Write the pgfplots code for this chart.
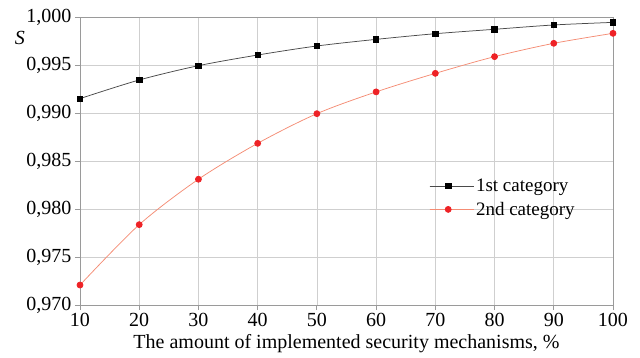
\documentclass[border=0pt]{standalone}
\usepackage{fontspec}
\setmainfont{Liberation Serif}
\usepackage{pgfplots}
\pgfplotsset{compat=1.18}
\definecolor{blk}{HTML}{4A4A4A}
\definecolor{salm}{HTML}{F48C74}
\definecolor{redmark}{HTML}{EE2226}
\definecolor{gridc}{HTML}{CFCFCF}
\definecolor{axc}{HTML}{9A9A9A}
\begin{document}
\begin{tikzpicture}
\path[use as bounding box] (-80bp,-53bp) rectangle (560bp,305bp);
\begin{axis}[
  scale only axis,
  width=533bp, height=288bp,
  xmin=10, xmax=100, ymin=0.970, ymax=1.000,
  xtick={10,20,...,100},
  ytick={0.970,0.975,0.980,0.985,0.990,0.995,1.000},
  grid=major,
  major grid style={gridc, line width=0.6bp},
  axis line style={axc, line width=0.8bp},
  tick style={axc, line width=0.8bp},
  tick align=outside,
  xtick pos=bottom, ytick pos=left,
  major tick length=5bp,
  tick label style={font=\fontsize{20bp}{23bp}\selectfont},
  /pgf/number format/assume math mode=true,
  yticklabel style={/pgf/number format/.cd, use comma, fixed, fixed zerofill, precision=3},
  scaled y ticks=false,
  xlabel={The amount of implemented security mechanisms, \%},
  xlabel style={font=\fontsize{20bp}{24bp}\selectfont, yshift=-1bp},
  ylabel={\textit{S}},
  ylabel style={font=\fontsize{20bp}{24bp}\selectfont, rotate=-90, at={(axis description cs:-0.1126,0.927)}, anchor=center},
  legend style={draw=none, fill=none, at={(0.655,0.445)}, anchor=north west,
    font=\fontsize{19bp}{22bp}\selectfont, row sep=5bp, inner sep=0bp},
  legend cell align=left,
  clip=false,
]
\addplot[draw=blk, line width=0.75bp, smooth, mark=square*, mark size=2.7bp, mark options={fill=black, draw=black, solid},
  legend image code/.code={\path (0bp,0bp) -- (44bp,0bp); \draw[draw=blk, line width=0.8bp] (0bp,0bp) -- (37bp,0bp); \fill[black] (15.8bp,-2.7bp) rectangle (21.2bp,2.7bp);}] coordinates {
(10,0.99150) (20,0.99344) (30,0.99493) (40,0.99604) (50,0.99698)
(60,0.99767) (70,0.99826) (80,0.99872) (90,0.99917) (100,0.99944)};
\addlegendentry{1st category}
\addplot[draw=salm, line width=0.75bp, smooth, mark=*, mark size=3bp, mark options={fill=redmark, draw=redmark, solid},
  legend image code/.code={\path (0bp,0bp) -- (44bp,0bp); \draw[draw=salm, line width=0.8bp] (0bp,0bp) -- (37bp,0bp); \fill[redmark] (18.5bp,0bp) circle[radius=3bp];}] coordinates {
(10,0.97208) (20,0.97837) (30,0.98310) (40,0.98684) (50,0.98993)
(60,0.99220) (70,0.99413) (80,0.99587) (90,0.99726) (100,0.99830)};
\addlegendentry{2nd category}
\end{axis}
\end{tikzpicture}
\end{document}
